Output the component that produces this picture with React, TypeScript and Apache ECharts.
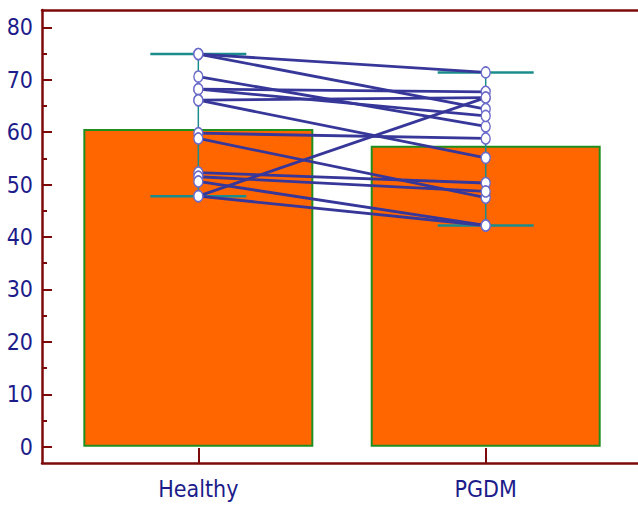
import React, { useEffect, useRef } from "react";
import * as echarts from "echarts";

const categories = ["Healthy", "PGDM"];
const barMeans = [60.6, 57.4];
const healthy = [74.9, 74.9, 70.6, 68.2, 68.2, 66.1, 66.1, 59.8, 58.8, 52.3, 51.5, 50.6, 47.8, 47.8];
const pgdm = [71.4, 64.4, 61.1, 67.7, 63.1, 66.6, 55.1, 58.8, 47.5, 50.3, 48.7, 42.2, 66.6, 42.2];
const yMajorTicks = [0, 10, 20, 30, 40, 50, 60, 70, 80];
const yMinorTicks = [5, 15, 25, 35, 45, 55, 65, 75];

const MAROON = "#7d0a0a";
const NAVY = "#1c1c8a";
const TEAL = "#1b8c8c";
const LINE = "#37379a";
const FONT = "'Liberation Sans Narrow', 'DejaVu Sans Condensed', 'Liberation Sans', Arial, sans-serif";

export default function App() {
  const ref = useRef<HTMLDivElement>(null);
  useEffect(() => {
    if (!ref.current) return;
    const chart = echarts.init(ref.current, null, { renderer: "svg" });
    const xMin = 0.456;
    const xMax = 2.53;
    const groups = [healthy, pgdm];
    const whiskerData = groups.map((g, i) => [i + 1, Math.min(...g), Math.max(...g)]);

    const subjectSeries = healthy.map((h, i) => ({
      type: "line",
      xAxisIndex: 0,
      yAxisIndex: 0,
      data: [
        [1, h],
        [2, pgdm[i]],
      ],
      symbol: "circle",
      symbolSize: [9, 11],
      lineStyle: { color: LINE, width: 2.8 },
      itemStyle: { color: "#ffffff", borderColor: "#6b6bc9", borderWidth: 1.5 },
      z: 5,
      silent: true,
    }));

    chart.setOption({
      animation: false,
      backgroundColor: "#ffffff",
      grid: { left: 42, right: 0, top: 10, bottom: 45, containLabel: false, outerBoundsMode: "none" },
      xAxis: [
        {
          type: "value",
          min: xMin,
          max: xMax,
          axisLine: { show: true, onZero: false, lineStyle: { color: MAROON, width: 2.5 } },
          axisTick: { show: true, inside: true, length: 15, customValues: [1, 2], lineStyle: { color: MAROON, width: 2 } },
          axisLabel: {
            show: true,
            customValues: [1, 2],
            formatter: (v: number) => categories[Math.round(v) - 1] ?? "",
            color: NAVY,
            fontFamily: FONT,
            fontSize: 23,
            margin: 14,
          },
          splitLine: { show: false },
        },
        {
          type: "value",
          position: "top",
          min: xMin,
          max: xMax,
          axisLine: { show: true, onZero: false, lineStyle: { color: MAROON, width: 2.5 } },
          axisTick: { show: false },
          axisLabel: { show: false },
          splitLine: { show: false },
        },
      ],
      yAxis: [
        {
          type: "value",
          min: -3.1,
          max: 83.3,
          axisLine: { show: true, onZero: false, lineStyle: { color: MAROON, width: 2.5 } },
          axisTick: { show: true, inside: true, length: 10, customValues: yMajorTicks, lineStyle: { color: MAROON, width: 2 } },
          axisLabel: { show: true, customValues: yMajorTicks, color: NAVY, fontFamily: FONT, fontSize: 23, margin: 9 },
          splitLine: { show: false },
        },
        {
          type: "value",
          position: "left",
          min: -3.1,
          max: 83.3,
          axisLine: { show: false, onZero: false },
          axisTick: { show: true, inside: true, length: 5, customValues: yMinorTicks, lineStyle: { color: MAROON, width: 2 } },
          axisLabel: { show: false },
          splitLine: { show: false },
        },
      ],
      series: [
        {
          type: "bar",
          xAxisIndex: 0,
          yAxisIndex: 0,
          data: barMeans.map((v, i) => [i + 1, v]),
          barWidth: 230,
          itemStyle: { color: "#ff6600", borderColor: "#1f8f1f", borderWidth: 2 },
          z: 1,
          silent: true,
        },
        {
          type: "custom",
          xAxisIndex: 0,
          yAxisIndex: 0,
          data: whiskerData,
          z: 3,
          silent: true,
          renderItem: (params: any, api: any) => {
            const x = api.value(0);
            const lo = api.coord([x, api.value(1)]);
            const hi = api.coord([x, api.value(2)]);
            const hw = 48;
            return {
              type: "group",
              children: [
                { type: "line", shape: { x1: lo[0], y1: lo[1], x2: hi[0], y2: hi[1] }, style: { stroke: TEAL, lineWidth: 1.5 } },
                { type: "line", shape: { x1: lo[0] - hw, y1: lo[1], x2: lo[0] + hw, y2: lo[1] }, style: { stroke: TEAL, lineWidth: 2.5 } },
                { type: "line", shape: { x1: hi[0] - hw, y1: hi[1], x2: hi[0] + hw, y2: hi[1] }, style: { stroke: TEAL, lineWidth: 2.5 } },
              ],
            };
          },
        },
        ...subjectSeries,
      ],
    });
    return () => chart.dispose();
  }, []);
  return <div ref={ref} style={{ position: "fixed", left: 0, top: 0, width: 638, height: 508 }} />;
}
